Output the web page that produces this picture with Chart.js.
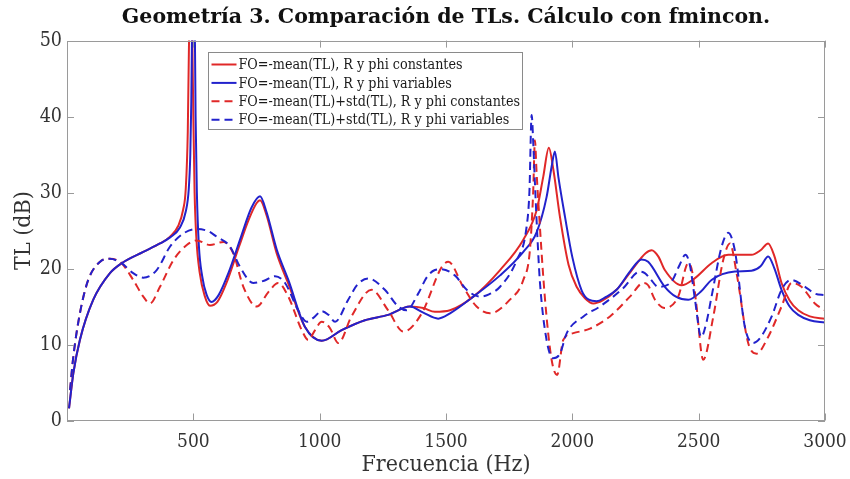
<!DOCTYPE html>
<html>
<head>
<meta charset="utf-8">
<script src="https://cdn.jsdelivr.net/npm/chart.js@4.4.1/dist/chart.umd.min.js"></script>
<style>
  html, body { margin: 0; padding: 0; background: #fff; }
  #wrap { width: 850px; height: 479px; }
</style>
</head>
<body>
<div id="wrap"><canvas id="tlChart" width="850" height="479"></canvas></div>
<script>
// TL (dB) against frequency (Hz) for the four fmincon runs
const freqMeanConst = [8, 25, 51, 104, 170, 216, 302, 368, 408, 440, 460, 470, 478, 483, 489, 496, 500, 505, 512, 525, 545, 566, 595, 630, 680, 720, 750, 764, 790, 830, 876, 942, 1008, 1087, 1179, 1271, 1357, 1410, 1456, 1516, 1608, 1714, 1806, 1859, 1885, 1907, 1925, 1951, 1985, 2017, 2050, 2083, 2120, 2175, 2240, 2290, 2314, 2340, 2366, 2432, 2480, 2551, 2617, 2709, 2745, 2775, 2800, 2828, 2860, 2894, 2940, 3000];
const tlMeanConst = [1.6, 6.2, 10.6, 15.9, 19.4, 20.7, 22.2, 23.3, 24.2, 25.6, 27.8, 30.5, 38, 50, 75, 50, 40, 30, 24, 19.5, 16.4, 15.1, 15.6, 18, 22.8, 26.5, 28.6, 29.0, 27, 22, 18, 12.3, 10.5, 11.9, 13.2, 13.9, 15.0, 14.8, 14.3, 14.5, 16.3, 19.8, 23.8, 27.7, 32.1, 35.9, 33, 26.8, 20.5, 17.6, 16.1, 15.4, 15.8, 17.2, 20.0, 22.0, 22.4, 21.6, 19.8, 17.8, 18.6, 20.7, 21.8, 21.8, 22.4, 23.3, 21.6, 18.1, 15.8, 14.5, 13.7, 13.4];

const freqMeanVar = [8, 25, 51, 104, 170, 216, 302, 368, 408, 447, 470, 482, 488, 492, 496, 500, 505, 509, 514, 522, 535, 552, 572, 600, 640, 690, 730, 764, 790, 830, 876, 942, 1008, 1087, 1179, 1271, 1357, 1410, 1469, 1516, 1608, 1714, 1806, 1859, 1898, 1918, 1931, 1945, 1971, 2000, 2037, 2065, 2096, 2130, 2175, 2230, 2274, 2300, 2366, 2410, 2459, 2510, 2551, 2643, 2709, 2745, 2775, 2800, 2828, 2860, 2894, 2940, 3000];
const tlMeanVar = [1.6, 6.2, 10.6, 15.9, 19.4, 20.7, 22.2, 23.3, 24.1, 25.4, 27.5, 30.5, 35, 42, 55, 80, 55, 40, 30, 23, 19, 16.6, 15.6, 16.5, 19.5, 24.3, 28, 29.5, 27.4, 22.5, 18.5, 12.3, 10.5, 11.9, 13.2, 13.9, 15.0, 14.2, 13.4, 14.1, 16.3, 19.1, 22.2, 24.8, 29.4, 33.4, 35.4, 32, 26.8, 21.5, 17.1, 15.9, 15.7, 16.2, 17.2, 19.7, 21.2, 20.9, 17.6, 16.3, 15.9, 17.0, 18.5, 19.6, 19.7, 20.3, 21.6, 20.0, 17.2, 15.0, 13.9, 13.2, 12.9];

const freqStdConst = [12, 25, 51, 84, 131, 170, 216, 262, 302, 328, 368, 421, 474, 513, 566, 619, 658, 698, 751, 797, 836, 876, 929, 955, 980, 1008, 1040, 1074, 1126, 1205, 1271, 1331, 1404, 1483, 1509, 1568, 1621, 1674, 1753, 1806, 1832, 1845, 1852, 1858, 1865, 1892, 1918, 1940, 1964, 2004, 2070, 2149, 2228, 2281, 2300, 2327, 2366, 2419, 2459, 2475, 2490, 2518, 2558, 2597, 2624, 2650, 2696, 2729, 2775, 2828, 2868, 2907, 2960, 3000];
const tlStdConst = [4.0, 8.4, 14.1, 18.5, 20.9, 21.3, 20.7, 18.5, 16.3, 15.4, 17.6, 21.1, 23.1, 23.7, 23.1, 23.5, 22.0, 17.6, 15.0, 16.9, 18.1, 16.3, 11.9, 10.6, 11.8, 13.0, 12.2, 10.2, 13.7, 17.2, 14.5, 11.7, 14.1, 20.2, 20.9, 17.6, 15.0, 14.1, 15.9, 18.5, 22.4, 30, 36.9, 33, 29.0, 15.9, 8.0, 6.0, 10.6, 11.5, 12.1, 13.7, 16.3, 18.1, 17.8, 15.9, 14.8, 16.3, 20.7, 19.5, 15.5, 8.0, 13.7, 21.1, 23.3, 19.4, 10.2, 8.8, 11.0, 15.0, 18.1, 17.6, 15.4, 14.5];

const freqStdVar = [12, 25, 51, 84, 131, 170, 216, 262, 302, 355, 408, 460, 513, 560, 592, 645, 685, 737, 780, 823, 863, 915, 949, 975, 1008, 1035, 1061, 1113, 1150, 1192, 1258, 1311, 1344, 1390, 1425, 1456, 1480, 1535, 1582, 1634, 1670, 1714, 1780, 1819, 1830, 1839, 1846, 1852, 1862, 1872, 1898, 1924, 1951, 1978, 2044, 2109, 2201, 2267, 2287, 2307, 2340, 2393, 2425, 2447, 2465, 2485, 2510, 2530, 2551, 2591, 2617, 2643, 2683, 2716, 2742, 2789, 2828, 2865, 2921, 2960, 3000];
const tlStdVar = [4.0, 8.4, 14.1, 18.5, 20.9, 21.3, 20.7, 19.4, 18.8, 19.8, 22.9, 24.6, 25.2, 24.9, 24.2, 22.9, 20.2, 18.1, 18.4, 19.0, 18.1, 14.5, 13.0, 13.5, 14.4, 13.9, 13.0, 15.9, 17.9, 18.7, 17.2, 15.0, 14.5, 16.7, 18.9, 19.8, 19.9, 19.1, 17.2, 16.3, 16.6, 17.6, 21.1, 25.5, 30, 40.2, 36, 31.2, 24, 18.1, 10.6, 8.2, 8.8, 11.5, 13.7, 15.0, 17.4, 19.6, 19.4, 18.7, 17.6, 18.3, 20.5, 21.8, 20.5, 16, 11.0, 12.8, 16.3, 22.9, 24.7, 22.4, 12.3, 10.2, 10.8, 13.7, 17.2, 18.5, 17.6, 16.7, 16.5];

const seriesLabels = [
  'FO=-mean(TL), R y phi constantes',
  'FO=-mean(TL), R y phi variables',
  'FO=-mean(TL)+std(TL), R y phi constantes',
  'FO=-mean(TL)+std(TL), R y phi variables'
];
const xTicks = [500, 1000, 1500, 2000, 2500, 3000];

const RED = '#e02828';
const BLUE = '#2222cc';
const SERIF = '"DejaVu Serif Condensed", "DejaVu Serif", serif';

const pairs = (xs, ys) => xs.map((f, i) => ({x: f, y: ys[i]}));

// MATLAB-like box around the axes with ticks pointing inwards
const axesBox = {
  id: 'axesBox',
  afterDatasetsDraw(chart) {
    const {ctx, chartArea: a, scales: {x, y}} = chart;
    ctx.save();
    ctx.strokeStyle = '#9a9a9a';
    ctx.lineWidth = 1;
    ctx.setLineDash([]);
    ctx.strokeRect(Math.round(a.left) + 0.5, Math.round(a.top) + 0.5,
      Math.round(a.width) - 1, Math.round(a.height) - 1);
    ctx.beginPath();
    x.ticks.forEach(t => {
      const px = Math.round(x.getPixelForValue(t.value)) + 0.5;
      ctx.moveTo(px, a.bottom); ctx.lineTo(px, a.bottom - 7);
      ctx.moveTo(px, a.top); ctx.lineTo(px, a.top + 7);
    });
    y.ticks.forEach(t => {
      const py = Math.round(y.getPixelForValue(t.value)) + 0.5;
      ctx.moveTo(a.left, py); ctx.lineTo(a.left + 7, py);
      ctx.moveTo(a.right, py); ctx.lineTo(a.right - 7, py);
    });
    ctx.stroke();
    ctx.restore();
  }
};

// legend box sitting inside the plot, top left
const boxLegend = {
  id: 'boxLegend',
  afterDraw(chart) {
    const {ctx} = chart;
    const x0 = 208.5, y0 = 52.5, w = 314, h = 77;
    ctx.save();
    ctx.fillStyle = '#fff';
    ctx.fillRect(x0, y0, w, h);
    ctx.strokeStyle = '#8a8a8a';
    ctx.lineWidth = 1;
    ctx.strokeRect(x0, y0, w, h);
    ctx.font = '14.2px ' + SERIF;
    ctx.textBaseline = 'middle';
    chart.data.datasets.forEach((ds, i) => {
      const yy = y0 + 12 + i * 18.4;
      ctx.strokeStyle = ds.borderColor;
      ctx.lineWidth = ds.borderWidth;
      ctx.setLineDash(ds.borderDash || []);
      ctx.beginPath();
      ctx.moveTo(x0 + 3, yy);
      ctx.lineTo(x0 + 28, yy);
      ctx.stroke();
      ctx.fillStyle = '#1a1a1a';
      ctx.fillText(ds.label, x0 + 30, yy + 1);
    });
    ctx.restore();
  }
};

Chart.defaults.font.family = SERIF;
Chart.defaults.color = '#333';

new Chart(document.getElementById('tlChart'), {
  type: 'line',
  data: {
    datasets: [
      { label: seriesLabels[0], data: pairs(freqMeanConst, tlMeanConst), borderColor: RED, borderWidth: 2, order: 4 },
      { label: seriesLabels[1], data: pairs(freqMeanVar, tlMeanVar), borderColor: BLUE, borderWidth: 2, order: 3 },
      { label: seriesLabels[2], data: pairs(freqStdConst, tlStdConst), borderColor: RED, borderWidth: 2, borderDash: [8, 5], order: 2 },
      { label: seriesLabels[3], data: pairs(freqStdVar, tlStdVar), borderColor: BLUE, borderWidth: 2, borderDash: [8, 5], order: 1 }
    ]
  },
  options: {
    responsive: false,
    animation: false,
    events: [],
    elements: {
      point: { radius: 0 },
      line: { cubicInterpolationMode: 'monotone', fill: false }
    },
    layout: { padding: { left: 0, right: 25, top: 0, bottom: 0 } },
    plugins: {
      legend: { display: false },
      tooltip: { enabled: false },
      title: {
        display: true,
        fullSize: false,
        text: 'Geometría 3. Comparación de TLs. Cálculo con fmincon.',
        color: '#111',
        font: { family: '"DejaVu Serif", serif', size: 20.5, weight: 'bold' },
        padding: { top: 5, bottom: 11 }
      }
    },
    scales: {
      x: {
        type: 'linear',
        min: 0,
        max: 3000,
        grid: { display: false, drawTicks: false },
        border: { display: false },
        afterBuildTicks: (scale) => { scale.ticks = xTicks.map(v => ({value: v})); },
        ticks: { font: { size: 19 }, padding: 10, maxRotation: 0, callback: (v) => String(v) },
        title: { display: true, text: 'Frecuencia (Hz)', font: { size: 23 }, padding: { top: 0, bottom: 0 } },
        afterFit: (scale) => { scale.height = 58.5; scale.paddingLeft = 0; scale.paddingRight = 0; }
      },
      y: {
        min: 0,
        max: 50,
        grid: { display: false, drawTicks: false },
        border: { display: false },
        ticks: { stepSize: 10, font: { size: 19.5 }, padding: 5 },
        title: { display: true, text: 'TL (dB)', font: { size: 23 }, padding: { top: 10, bottom: 0 } },
        afterFit: (scale) => { scale.width = 67; scale.paddingTop = 0; scale.paddingBottom = 0; }
      }
    }
  },
  plugins: [axesBox, boxLegend]
});
</script>
</body>
</html>
